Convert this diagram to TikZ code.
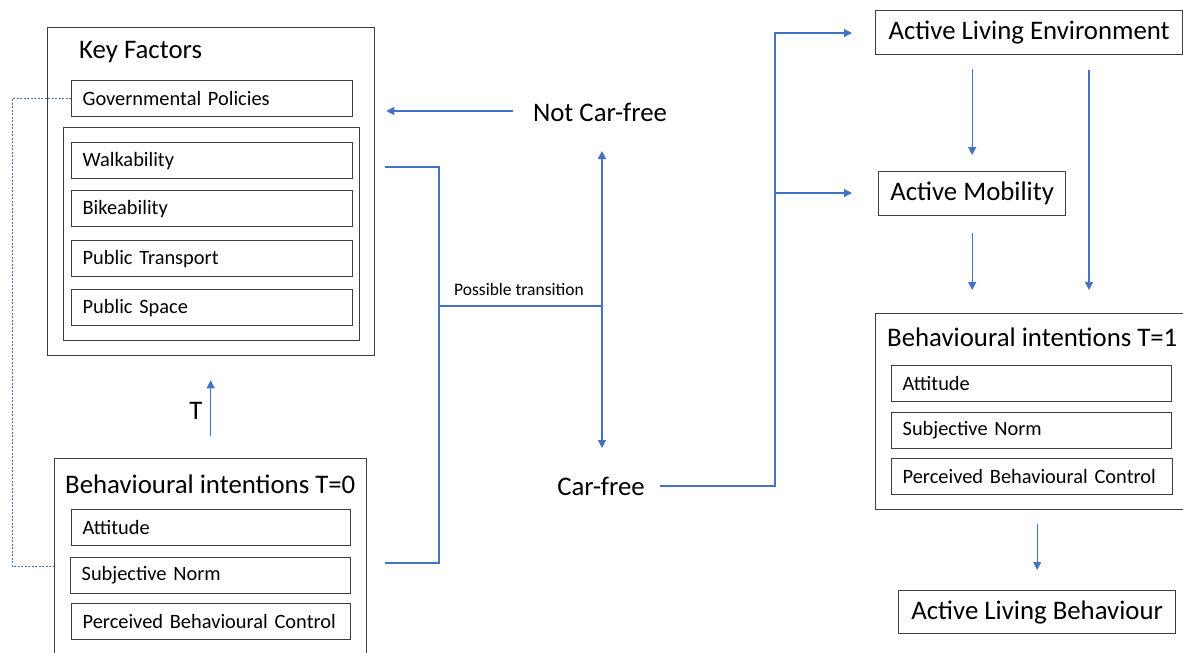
\documentclass[tikz,border=0pt]{standalone}
\usepackage{fontspec}
\setmainfont{Carlito}
\usetikzlibrary{arrows.meta}
\definecolor{lblue}{HTML}{4472C4}
\definecolor{bord}{HTML}{3F3F3F}
\begin{document}
\begin{tikzpicture}[x=1pt,y=-1pt,
  box/.style={draw=bord,line width=1.3pt,inner sep=0pt,anchor=north west},
  item/.style={draw=bord,line width=1.3pt,font=\fontsize{20.4}{24}\selectfont,align=left,
    inner xsep=11pt,inner ysep=0pt,minimum height=36pt,text width=#1,anchor=north west},
  big/.style={draw=bord,line width=1.3pt,font=\fontsize{26.8}{30}\selectfont,inner sep=0pt,anchor=north west},
  title/.style={font=\fontsize{26.8}{30}\selectfont,inner sep=0pt},
  link/.style={draw=lblue,line width=1.2pt},
  arr/.style={link,-{Triangle[length=8pt,width=8pt]}},
  dotline/.style={draw=lblue,line width=1pt,dash pattern=on 2pt off 1.5pt}
]
\useasboundingbox (0,0) rectangle (1183,653);
\clip (0,0) rectangle (1183,653);
\fill[white] (0,0) rectangle (1183,653);

% Key factors
\node[box,minimum width=327pt,minimum height=328pt] (kf) at (47,27) {};
\node[title,anchor=west] (kft) at (79,52) {Key Factors};
\node[item=259pt] (gov) at (71,80) {Governmental Policies};
\node[box,minimum width=296pt,minimum height=213pt] (grp) at (63,127) {};
\node[item=259pt] (walk) at (71,142) {Walkability};
\node[item=259pt] (bike) at (71,190) {Bikeability};
\node[item=259pt] (pt) at (71,240) {Public Transport};
\node[item=259pt] (ps) at (71,289) {Public Space};

% Behavioural intentions T=0
\node[box,minimum width=312pt,minimum height=230pt] (bi0) at (54,458) {};
\node[title,anchor=west] (bi0t) at (65,484) {Behavioural intentions T=0};
\node[item=257pt] (att0) at (71,509) {Attitude};
\node[item=258pt] (sn0) at (70,557) {Subjective Norm};
\node[item=257pt] (pbc0) at (71,603) {Perceived Behavioural Control};

\node[title] (tl) at (196,411) {T};

% middle
\node[title] (ncf) at (600,112) {Not Car-free};
\node[title] (cf) at (601,486) {Car-free};
\node[font=\fontsize{17.5}{20}\selectfont,inner sep=0pt] (ptl) at (519,289) {Possible transition};

% right side
\node[big,minimum width=307pt,minimum height=44pt] (ale) at (875,10) {Active Living Environment};
\node[big,minimum width=187pt,minimum height=44pt] (am) at (878,171) {Active Mobility};
\node[box,minimum width=320pt,minimum height=196pt] (bi1) at (875,313) {};
\node[title,anchor=west] (bi1t) at (887,337) {Behavioural intentions T=1};
\node[item=258pt] (att1) at (891,365) {Attitude};
\node[item=258pt] (sn1) at (891,412) {Subjective Norm};
\node[item=259pt] (pbc1) at (891,458) {Perceived Behavioural Control};
\node[big,minimum width=277pt,minimum height=43pt] (alb) at (898,590) {Active Living Behaviour};

% coordinates
\coordinate (p0) at (385,563);
\coordinate (p1) at (385,167);
\coordinate (jx) at (439,306);
\coordinate (jr) at (602,306);
\coordinate (ncfA) at (602,151);
\coordinate (cfA) at (602,448);
\coordinate (c0) at (660,486);
\coordinate (vt) at (775,33);
\coordinate (vm) at (775,193);
\coordinate (aleA) at (852,33);
\coordinate (amA) at (852,193);
\coordinate (rx) at (1089,0);
\coordinate (dl) at (12,566);
\coordinate (n0) at (513,111);

% connectors
\draw[arr,shorten >=11pt] (n0) -- (n0 -| kf.east);
\draw[link] (p0) -| (jx) |- (p1);
\draw[link] (jx) -- (jr);
\draw[arr] (jr) -- (ncfA);
\draw[arr] (jr) -- (cfA);
\draw[arr] (c0) -| (vt) -- (aleA);
\draw[arr] (vm) -- (amA);
\draw[arr,shorten <=14pt,shorten >=16pt] (ale.south -| am.north) -- (am.north);
\draw[arr,shorten <=17pt,shorten >=23pt] (am.south) -- (am.south |- bi1.north);
\draw[arr,shorten <=15pt,shorten >=23pt] (ale.south -| rx) -- (bi1.north -| rx);
\draw[arr,shorten <=14pt,shorten >=20pt] (alb.north |- bi1.south) -- (alb.north);
\draw[arr,shorten <=22pt,shorten >=24pt] (bi0.north) -- (bi0.north |- kf.south);
\draw[dotline] (gov.west) -| (dl) -- (dl -| bi0.west);
\end{tikzpicture}
\end{document}
